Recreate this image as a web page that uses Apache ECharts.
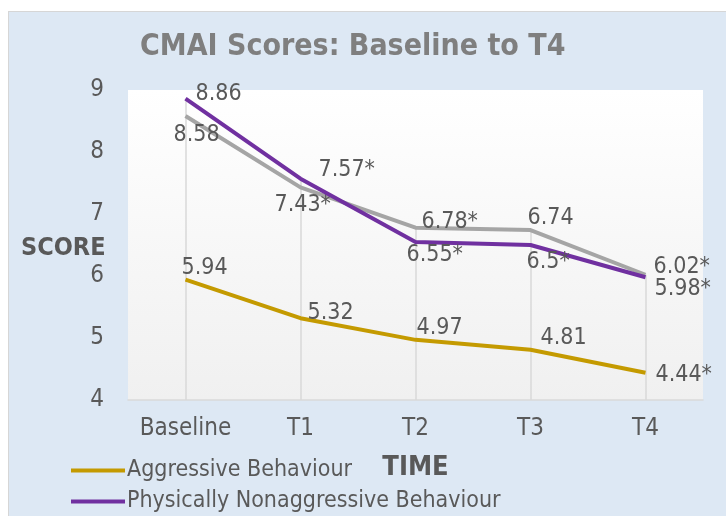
<!DOCTYPE html>
<html>
<head>
<meta charset="utf-8">
<script src="https://cdn.jsdelivr.net/npm/echarts@6/dist/echarts.min.js"></script>
<style>
  body { margin: 0; background: #ffffff; }
  #frame {
    position: absolute; left: 8px; top: 11px; width: 718px; height: 505px;
    background: #dde8f4; border-left: 1px solid #d6d6d6; border-top: 1px solid #d6d6d6;
  }
  #main { position: absolute; left: 0; top: 0; width: 726px; height: 516px; }
</style>
</head>
<body>
<div id="frame"></div>
<div id="main"></div>
<script>
// ==============================
// 数据
// ==============================
const timePoints = ['Baseline', 'T1', 'T2', 'T3', 'T4'];

const aggressive = [5.94, 5.32, 4.97, 4.81, 4.44];
const physical = [8.86, 7.57, 6.55, 6.5, 5.98];
const verbal = [8.58, 7.43, 6.78, 6.74, 6.02];

// 显著性标记（*）
const aggressiveSig = [false, false, false, false, true];
const physicalSig = [false, true, true, true, true];
const verbalSig = [false, true, true, false, true];

// label placement per point: [dx of text left, dy of text middle]
const aggressiveLabelPos = [[-4, -12], [7, -5], [1, -12], [10, -12], [10, 2]];
const physicalLabelPos = [[10, -5], [18, -9], [-9, 13], [-4, 17], [9, 12]];
const verbalLabelPos = [[-12, 19], [-26, 18], [6, -6], [-3, -12], [8, -8]];

const TEXT = '#595959';
const FONT = 'DejaVu Sans Condensed';

function buildData(values, sig, pos) {
  return values.map((v, i) => ({
    value: v,
    label: {
      position: pos[i],
      formatter: String(v) + (sig[i] ? '*' : '')
    }
  }));
}

function makeSeries(name, color, values, sig, pos) {
  return {
    name,
    type: 'line',
    data: buildData(values, sig, pos),
    symbol: 'circle',
    symbolSize: 0,
    showSymbol: true,
    lineStyle: { color, width: 4, join: 'round' },
    itemStyle: { color },
    label: {
      show: true, color: TEXT, fontSize: 23, fontFamily: FONT,
      align: 'left', verticalAlign: 'middle'
    },
    labelLayout: { hideOverlap: false },
    z: 3
  };
}

// drop lines: from the highest value down to the axis
const dropLines = timePoints.map((t, i) => {
  const top = Math.max(aggressive[i], physical[i], verbal[i]);
  return [{ coord: [i, top] }, { coord: [i, 4] }];
});

const chart = echarts.init(document.getElementById('main'));

const verbalSeries = makeSeries('Verbally Nonaggressive Behaviour', '#a5a5a5', verbal, verbalSig, verbalLabelPos);
verbalSeries.z = 2;
verbalSeries.markLine = {
  silent: true,
  symbol: 'none',
  label: { show: false },
  lineStyle: { color: '#d9d9d9', width: 1.5, type: 'solid' },
  data: dropLines,
  z: 1
};

const legendBase = {
  left: 66,
  icon: 'rect',
  itemWidth: 54,
  itemHeight: 4,
  textStyle: { color: TEXT, fontSize: 23, fontFamily: FONT, padding: [0, 0, 0, -3] }
};

chart.setOption({
  backgroundColor: 'transparent',
  animation: false,
  title: [
    {
      text: 'CMAI Scores: Baseline to T4',
      left: 135,
      top: 27,
      textStyle: { color: '#7f7f7f', fontSize: 30, fontWeight: 'bold', fontFamily: FONT }
    },
    {
      text: 'SCORE',
      left: 16,
      top: 231,
      textStyle: { color: TEXT, fontSize: 25, fontWeight: 'bold', fontFamily: FONT }
    }
  ],
  legend: [
    Object.assign({ top: 454, data: ['Aggressive Behaviour'] }, legendBase),
    Object.assign({ top: 485, data: ['Physically Nonaggressive Behaviour'] }, legendBase)
  ],
  grid: {
    left: 128,
    right: 23,
    top: 90,
    bottom: 116,
    show: true,
    borderWidth: 0,
    backgroundColor: new echarts.graphic.LinearGradient(0, 0, 0, 1, [
      { offset: 0, color: '#ffffff' },
      { offset: 1, color: '#f0f0f0' }
    ])
  },
  xAxis: {
    type: 'category',
    data: timePoints,
    boundaryGap: true,
    name: 'TIME',
    nameLocation: 'middle',
    nameGap: 54,
    nameTextStyle: { color: TEXT, fontSize: 27, fontWeight: 'bold', fontFamily: FONT },
    axisLine: { lineStyle: { color: '#d9d9d9', width: 1.5 } },
    axisTick: { show: false },
    axisLabel: { color: TEXT, fontSize: 24, fontFamily: FONT, margin: 17, interval: 0 },
    splitLine: { show: false }
  },
  yAxis: {
    type: 'value',
    min: 4,
    max: 9,
    interval: 1,
    axisLine: { show: false },
    axisTick: { show: false },
    splitLine: { show: false },
    axisLabel: { color: TEXT, fontSize: 24, fontFamily: FONT, margin: 24 }
  },
  series: [
    makeSeries('Aggressive Behaviour', '#c49a00', aggressive, aggressiveSig, aggressiveLabelPos),
    makeSeries('Physically Nonaggressive Behaviour', '#7030a0', physical, physicalSig, physicalLabelPos),
    verbalSeries
  ]
});
</script>
</body>
</html>
